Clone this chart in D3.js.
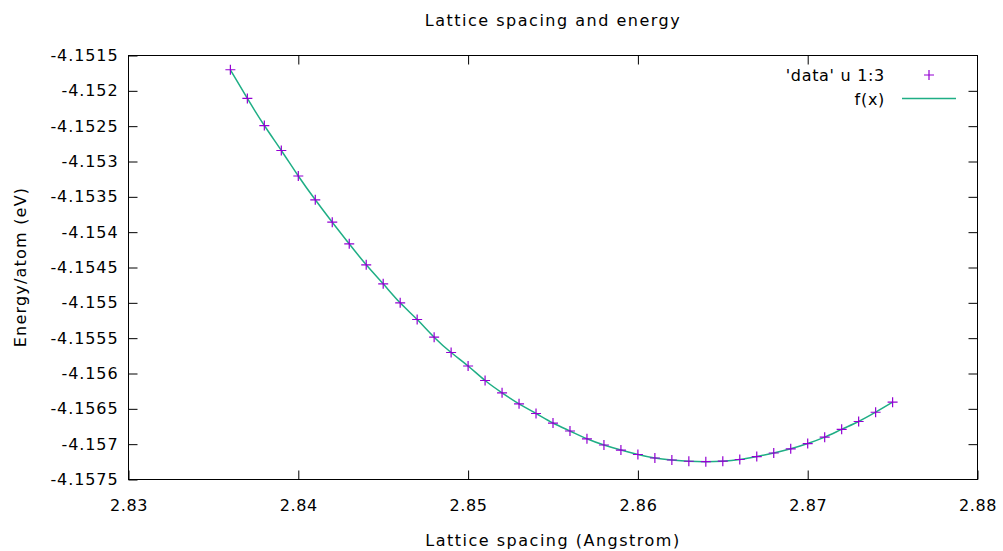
<!DOCTYPE html>
<html>
<head>
<meta charset="utf-8">
<script src="https://cdn.jsdelivr.net/npm/d3@7"></script>
<style>
  html, body { margin: 0; padding: 0; background: #fff; }
  svg { display: block; font-family: "DejaVu Sans", sans-serif; }
</style>
</head>
<body>
<svg id="chart" width="1003" height="551"></svg>
<script>
// ---- data ----
const latticeSpacing = [
  2.836, 2.837, 2.838, 2.839, 2.840, 2.841, 2.842, 2.843, 2.844, 2.845,
  2.846, 2.847, 2.848, 2.849, 2.850, 2.851, 2.852, 2.853, 2.854, 2.855,
  2.856, 2.857, 2.858, 2.859, 2.860, 2.861, 2.862, 2.863, 2.864, 2.865,
  2.866, 2.867, 2.868, 2.869, 2.870, 2.871, 2.872, 2.873, 2.874, 2.875
];
const energyPerAtom = [
  -4.151702, -4.152108, -4.152491, -4.152844, -4.153205, -4.153542, -4.153859, -4.154165, -4.154462, -4.154731,
  -4.155000, -4.155236, -4.155486, -4.155703, -4.155894, -4.156099, -4.156273, -4.156429, -4.156566, -4.156701,
  -4.156814, -4.156924, -4.157012, -4.157083, -4.157146, -4.157196, -4.157224, -4.157242, -4.157248, -4.157241,
  -4.157217, -4.157175, -4.157125, -4.157066, -4.156991, -4.156901, -4.156790, -4.156679, -4.156548, -4.156406
];
const xTicks = [2.83, 2.84, 2.85, 2.86, 2.87, 2.88];
const xTickLabels = ["2.83", "2.84", "2.85", "2.86", "2.87", "2.88"];
const yTicks = [-4.1515, -4.152, -4.1525, -4.153, -4.1535, -4.154, -4.1545, -4.155, -4.1555, -4.156, -4.1565, -4.157, -4.1575];
const yTickLabels = ["-4.1515", "-4.152", "-4.1525", "-4.153", "-4.1535", "-4.154", "-4.1545", "-4.155", "-4.1555", "-4.156", "-4.1565", "-4.157", "-4.1575"];
const titleText = "Lattice spacing and energy";
const xTitle = "Lattice spacing (Angstrom)";
const yTitle = "Energy/atom (eV)";
const seriesLabels = ["'data' u 1:3", "f(x)"];

(function () {
// ---- layout ----
const pl = 128.5, pr = 977.5, pt = 55.5, pb = 479.5;
const pointColor = "#9400d3", lineColor = "#1fae85";
const svg = d3.select("#chart");

const x = d3.scaleLinear().domain([2.83, 2.88]).range([pl, pr]);
const y = d3.scaleLinear().domain([-4.1575, -4.1515]).range([pb, pt]);

const data = latticeSpacing.map((v, i) => ({ x: v, y: energyPerAtom[i] }));

// frame
svg.append("rect")
  .attr("x", pl).attr("y", pt)
  .attr("width", pr - pl).attr("height", pb - pt)
  .attr("fill", "none").attr("stroke", "#000").attr("stroke-width", 1);

const fmtX = (d) => xTickLabels[xTicks.indexOf(d)];
const fmtY = (d) => yTickLabels[yTicks.indexOf(d)];

function styleAxis(g, showText, ls) {
  g.select(".domain").remove();
  g.selectAll(".tick line").attr("stroke", "#000").attr("stroke-width", 1);
  g.selectAll(".tick text").attr("fill", "#000").style("font-size", "16px")
    .style("font-family", "'DejaVu Sans', sans-serif").style("letter-spacing", ls + "px");
  if (!showText) g.selectAll(".tick text").remove();
}

svg.append("g").attr("transform", `translate(0,${pb})`)
  .call(d3.axisBottom(x).tickValues(xTicks).tickFormat(fmtX).tickSizeInner(-9).tickSizeOuter(0).tickPadding(20))
  .call(g => styleAxis(g, true, 0.6));
svg.append("g").attr("transform", `translate(0,${pt})`)
  .call(d3.axisTop(x).tickValues(xTicks.slice(1, -1)).tickSizeInner(-9).tickSizeOuter(0))
  .call(g => styleAxis(g, false, 0));
svg.append("g").attr("transform", `translate(${pl},0)`)
  .call(d3.axisLeft(y).tickValues(yTicks).tickFormat(fmtY).tickSizeInner(-9).tickSizeOuter(0).tickPadding(10))
  .call(g => styleAxis(g, true, 0.9));
svg.append("g").attr("transform", `translate(${pr},0)`)
  .call(d3.axisRight(y).tickValues(yTicks.slice(1, -1)).tickSizeInner(-9).tickSizeOuter(0))
  .call(g => styleAxis(g, false, 0));

// fit curve f(x)
svg.append("path")
  .datum(data)
  .attr("fill", "none")
  .attr("stroke", lineColor)
  .attr("stroke-width", 1.5)
  .attr("d", d3.line().x(d => x(d.x)).y(d => y(d.y)).curve(d3.curveNatural));

// data points as '+'
const plusSize = 5;
const plus = (cx, cy) => `M${cx - plusSize},${cy}H${cx + plusSize}M${cx},${cy - plusSize}V${cy + plusSize}`;
svg.append("g").selectAll("path")
  .data(data).join("path")
  .attr("d", d => plus(x(d.x), y(d.y)))
  .attr("stroke", pointColor).attr("stroke-width", 1.2).attr("fill", "none");

// titles
svg.append("text").attr("x", 553).attr("y", 26).attr("text-anchor", "middle")
  .style("font-size", "16px").style("letter-spacing", "1.5px").text(titleText);
svg.append("text").attr("x", 553).attr("y", 546).attr("text-anchor", "middle")
  .style("font-size", "16px").style("letter-spacing", "1.5px").text(xTitle);
svg.append("text").attr("transform", `translate(26,267) rotate(-90)`).attr("text-anchor", "middle")
  .style("font-size", "16px").style("letter-spacing", "1.2px").text(yTitle);

// legend
const legend = svg.append("g");
legend.append("text").attr("x", 885).attr("y", 81).attr("text-anchor", "end")
  .style("font-size", "16px").style("letter-spacing", "0.7px").text(seriesLabels[0]);
legend.append("path").attr("d", plus(929, 75))
  .attr("stroke", pointColor).attr("stroke-width", 1.2).attr("fill", "none");
legend.append("text").attr("x", 885).attr("y", 105).attr("text-anchor", "end")
  .style("font-size", "16px").style("letter-spacing", "0.7px").text(seriesLabels[1]);
legend.append("line").attr("x1", 902).attr("x2", 956).attr("y1", 98.5).attr("y2", 98.5)
  .attr("stroke", lineColor).attr("stroke-width", 1.5);
})();
</script>
</body>
</html>
